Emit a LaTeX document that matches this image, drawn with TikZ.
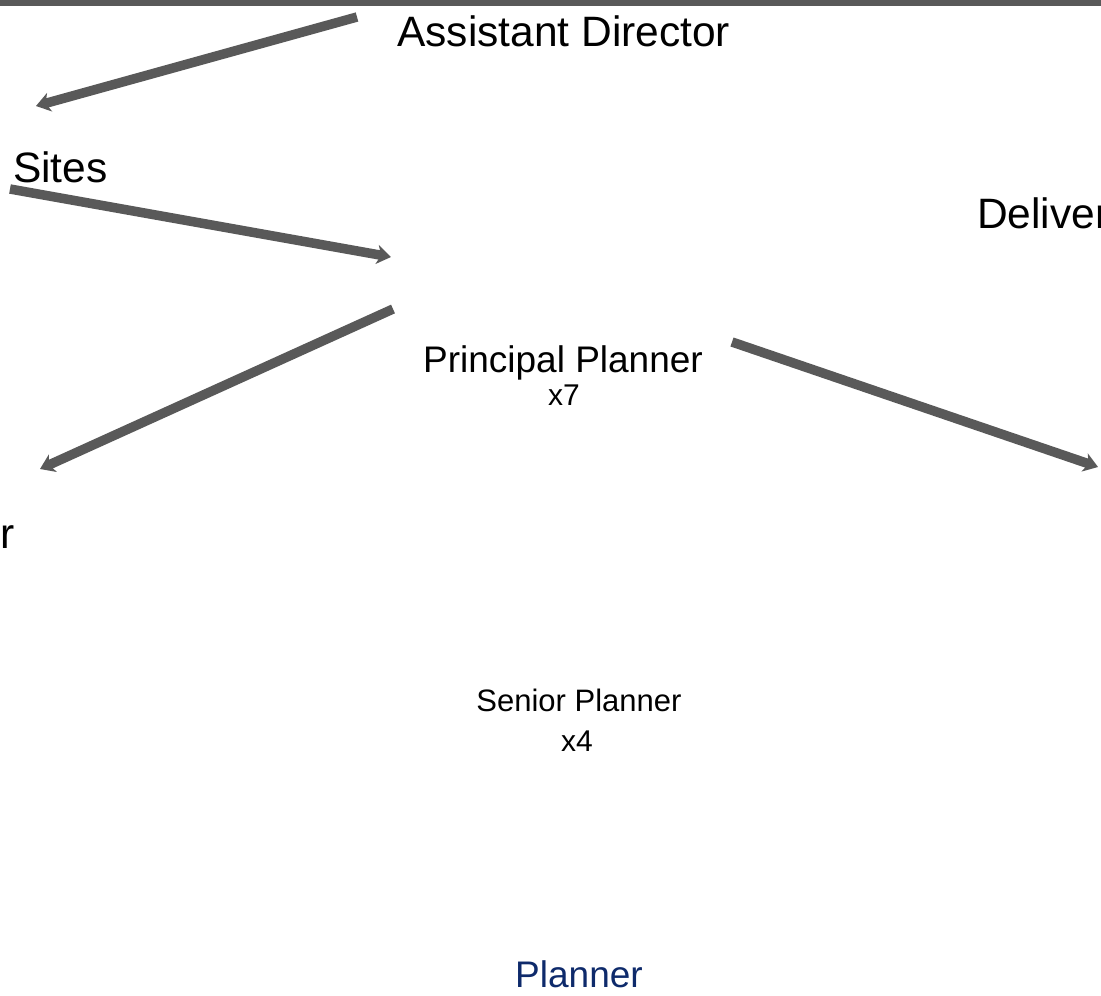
\documentclass[tikz,border=0pt]{standalone}
\usepackage{fontspec}
\setmainfont{Liberation Sans}
\usetikzlibrary{arrows.meta}
\definecolor{linkgray}{HTML}{595959}
\definecolor{planblue}{HTML}{0E2A6B}
\tikzset{
  lbl/.style={inner sep=0pt, anchor=base, text=black},
  bigtxt/.style={lbl, font=\fontsize{42.5}{50}\selectfont},
  midtxt/.style={lbl, font=\fontsize{37}{44}\selectfont},
  smalltxt/.style={lbl, font=\fontsize{31}{37}\selectfont},
  cnttxt/.style={lbl, font=\fontsize{30}{36}\selectfont},
  link/.style={draw=linkgray, line width=9.5pt, line cap=butt,
    -{Stealth[length=14pt,width=19pt,inset=4pt]}}
}
\begin{document}
\begin{tikzpicture}[x=1pt,y=-1pt]
  \useasboundingbox (0,0) rectangle (1101,996);
  \clip (0,0) rectangle (1101,996);
  \fill[white] (0,0) rectangle (1101,996);
  % header rule
  \fill[linkgray] (0,0) rectangle (1101,6);

  % labels
  \node[bigtxt, anchor=base west] (asst) at (397,46) {Assistant Director};
  \node[bigtxt, anchor=base west] (sites) at (13,182) {Sites};
  \node[bigtxt, anchor=base west] (deliv) at (977,228) {Deliver};
  \node[bigtxt, anchor=base east] (mgr) at (15,548) {r};
  \node[midtxt] (pp) at (563,372) {Principal Planner};
  \node[cnttxt] (ppn) at (564,405) {x7};
  \node[smalltxt] (sp) at (579,711) {Senior Planner};
  \node[cnttxt] (spn) at (577,751) {x4};
  \node[midtxt, text=planblue] (pl) at (579,987) {Planner};

  % connector end points
  \coordinate (a1s) at (357,17);
  \coordinate (a1e) at (36,106);
  \coordinate (a2s) at (10,189);
  \coordinate (a2e) at (391,257);
  \coordinate (a3s) at (393,309);
  \coordinate (a3e) at (40,469);
  \coordinate (a4s) at (732,342);
  \coordinate (a4e) at (1098,467);

  % connectors
  \draw[link] (a1s) -- (a1e);
  \draw[link] (a2s) -- (a2e);
  \draw[link] (a3s) -- (a3e);
  \draw[link] (a4s) -- (a4e);
\end{tikzpicture}
\end{document}
